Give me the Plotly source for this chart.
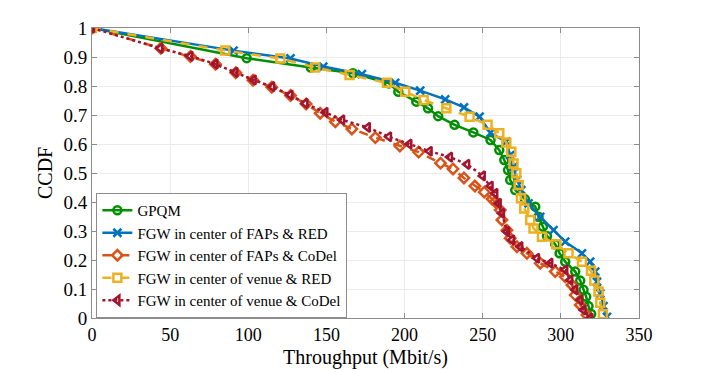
"""CCDF of throughput for GPQM and the FGW placement / AQM variants."""

import plotly.graph_objects as go

# --- data (throughput in Mbit/s, CCDF) ---
gpqm_x = [0, 99, 140, 167, 190, 196, 207.5, 215, 221.5, 232, 244, 255, 260.6, 263.8,
          266.2, 267.6, 270.8, 277, 283.6, 285.7, 288.5, 291.1, 296.4, 299.2, 302.8,
          309.2, 312.4, 314.5, 316.2, 317.7, 319.4]
gpqm_y = [1, 0.896, 0.864, 0.844, 0.809, 0.780, 0.746, 0.723, 0.696, 0.666, 0.640, 0.614,
          0.579, 0.545, 0.510, 0.476, 0.441, 0.41, 0.384, 0.349, 0.315, 0.283, 0.254,
          0.223, 0.194, 0.160, 0.129, 0.097, 0.073, 0.041, 0.014]

fap_red_x = [0, 90.6, 127, 148, 172.7, 194, 210, 226, 238, 248, 255, 265, 267.6, 269.5,
             272, 274.7, 279.3, 286.8, 295.3, 302.8, 313.5, 318.8, 322, 323.1, 325.2,
             327.3, 329.5]
fap_red_y = [1, 0.922, 0.895, 0.867, 0.841, 0.811, 0.784, 0.754, 0.726, 0.694, 0.638,
             0.608, 0.562, 0.521, 0.476, 0.441, 0.395, 0.349, 0.303, 0.263, 0.223, 0.194,
             0.160, 0.125, 0.085, 0.041, 0.004]

fap_codel_x = [0, 44, 63, 79, 92, 103, 115, 127, 137, 146, 155.7, 166.3, 181.3, 197, 209,
               223, 231, 238, 245, 251, 256, 258, 261.2, 262.3, 265.5, 267.6, 271.9,
               278.3, 286.8, 296.4, 302.8, 307.1, 309.2, 312.4, 316.7]
fap_codel_y = [1, 0.93, 0.902, 0.875, 0.846, 0.82, 0.796, 0.767, 0.738, 0.706, 0.677,
               0.652, 0.622, 0.593, 0.572, 0.534, 0.514, 0.483, 0.455, 0.434, 0.41,
               0.401, 0.372, 0.338, 0.303, 0.275, 0.246, 0.223, 0.189, 0.160, 0.142,
               0.114, 0.079, 0.045, 0.010]

venue_red_x = [0, 85.3, 120.5, 142.8, 164.8, 188.7, 200.4, 212.2, 226.7, 241.6, 253.1,
               260.6, 265.1, 268.3, 269.7, 271.5, 273, 274.5, 276.6, 280.4, 282.5, 287.9,
               297.1, 304.9, 313.5, 319.3, 321.4, 324.1, 325.2, 326.9]
venue_red_y = [1, 0.922, 0.895, 0.864, 0.838, 0.811, 0.780, 0.752, 0.723, 0.694, 0.666,
               0.637, 0.605, 0.573, 0.533, 0.499, 0.459, 0.413, 0.378, 0.338, 0.309,
               0.280, 0.254, 0.223, 0.194, 0.163, 0.129, 0.091, 0.053, 0.013]

venue_codel_x = [0, 43.7, 62.9, 78.9, 91.7, 103.4, 115.2, 126.9, 136.5, 149.3, 160, 176.5,
                 190, 203, 216, 229, 240, 250, 255, 258, 260.2, 262.3, 265.5, 268.7,
                 274, 284.7, 293.2, 302.8, 306, 309.2, 312.4, 314.5, 318.8]
venue_codel_y = [1, 0.930, 0.903, 0.876, 0.847, 0.821, 0.798, 0.769, 0.740, 0.709, 0.683,
                 0.657, 0.625, 0.60, 0.575, 0.555, 0.53, 0.49, 0.455, 0.43, 0.395, 0.361,
                 0.298, 0.269, 0.246, 0.206, 0.189, 0.166, 0.131, 0.097, 0.062, 0.028, 0.0]

SERIES = [
    ("GPQM", gpqm_x, gpqm_y, "#008F00", "circle-open", "solid"),
    ("FGW in center of FAPs & RED", fap_red_x, fap_red_y, "#0072BD", "x-thin-open", "solid"),
    ("FGW in center of FAPs & CoDel", fap_codel_x, fap_codel_y, "#D95319", "diamond-open", "dash"),
    ("FGW in center of venue & RED", venue_red_x, venue_red_y, "#EDB120", "square-open", "dash"),
    ("FGW in center of venue & CoDel", venue_codel_x, venue_codel_y, "#A2142F", "triangle-left-open", "dot"),
]

FONT = "Liberation Serif"

fig = go.Figure()
for name, xs, ys, color, symbol, dash in SERIES:
    fig.add_scatter(
        x=xs, y=ys, name=name, mode="lines+markers",
        line=dict(color=color, width=2.5, dash=dash),
        marker=dict(symbol=symbol, size=8, color=color, line=dict(color=color, width=2.5)),
    )

axis = dict(
    showline=True, linecolor="#8c8c8c", linewidth=1, mirror="ticks",
    ticks="inside", ticklen=5, tickcolor="#8c8c8c",
    showgrid=True, gridcolor="#ebebeb", zeroline=False, automargin=False,
)
fig.update_xaxes(axis, range=[0, 350], dtick=50,
                 tickfont=dict(family=FONT, size=18, color="black"),
                 title=dict(text="Throughput (Mbit/s)", standoff=6,
                            font=dict(family=FONT, size=20, color="black")))
fig.update_yaxes(axis, range=[0, 1], dtick=0.1,
                 tickfont=dict(family=FONT, size=19, color="black"))

# y title as an annotation so its distance from the axis matches the original
fig.add_annotation(
    text="CCDF", textangle=-90, showarrow=False,
    xref="paper", yref="paper", x=0, y=0.5, xanchor="center", yanchor="middle",
    xshift=-47, font=dict(family=FONT, size=20, color="black"),
)

# the page body has an 8px margin, so the plot box is shifted up/left to compensate
fig.update_layout(
    width=706, height=370,
    margin=dict(l=84, r=75, t=20, b=60),
    paper_bgcolor="white", plot_bgcolor="white",
    font=dict(family=FONT, color="black"),
    legend=dict(
        x=0.008, y=0.0, xanchor="left", yanchor="bottom",
        bgcolor="white", bordercolor="#8c8c8c", borderwidth=1,
        font=dict(family=FONT, size=15, color="black"),
        itemwidth=30, tracegroupgap=0,
    ),
)

fig.write_html("out.html")
